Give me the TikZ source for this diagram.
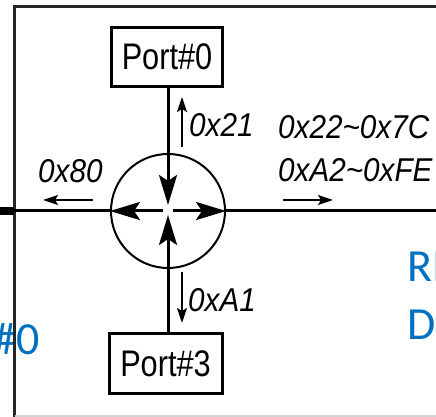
\documentclass[tikz,border=0pt]{standalone}
\usepackage{fontspec}
\setmainfont{Liberation Sans}
\newfontfamily\blfont{Carlito}
\usetikzlibrary{arrows.meta,calc}
\definecolor{myblue}{HTML}{0070C0}
\newcommand{\cnd}[2]{\scalebox{#1}[1]{#2}}
\begin{document}
\begin{tikzpicture}[x=1pt,y=1pt,
 framel/.style={line width=3pt, draw=black!85},
 conn/.style={line width=3pt},
 portbox/.style={draw, line width=3pt, minimum width=111pt, minimum height=59pt, inner sep=0pt, font=\fontsize{37}{40}\selectfont},
 hub/.style={circle, draw, line width=2pt, minimum size=114pt, inner sep=0pt},
 bigtip/.style={-{Stealth[length=30pt,width=18pt,inset=6pt]}},
 smallarrow/.style={line width=2pt, -{Stealth[length=15pt,width=10pt,inset=3pt]}},
 lbl/.style={font=\fontsize{33}{36}\selectfont\itshape, inner sep=0pt, anchor=base west},
 bluetxt/.style={font=\blfont\fontsize{46}{50}\selectfont, text=myblue, inner sep=0pt},
]
\useasboundingbox (0,0) rectangle (436,417);
\clip (0,0) rectangle (436,417);
% blue background text
\node[bluetxt, anchor=base west] (t1) at (407,135) {RI};
\node[bluetxt, anchor=base west] (t2) at (407,77) {De};
\node[bluetxt, anchor=base east] (t3) at (40,62) {\#0};
% frame
\draw[framel] (14,-5) -- (14,410) -- (445,410);
\draw[gray!35, line width=1.5pt] (15,1) -- (445,1);
% nodes
\node[hub] (sw) at (168,206) {};
\node[portbox] (p0) at (167,360) {\cnd{0.83}{Port\#0}};
\node[portbox, minimum width=113pt, minimum height=60pt] (p3) at (165.5,53) {\cnd{0.83}{Port\#3}};
\coordinate (L) at (0,206);
\coordinate (Lf) at (14,206);
\coordinate (R) at (440,206);
% connectors
\draw[conn, bigtip] (sw.center |- p0.south) -- ($(sw.center)+(0,6)$);
\draw[conn, bigtip] (sw.center |- p3.north) -- ($(sw.center)+(0,-4)$);
\draw[conn, bigtip] ($(sw.center)+(-5,0)$) -- (sw.west);
\draw[conn, bigtip] ($(sw.center)+(5,0)$) -- (sw.east);
\draw[conn] (sw.west) -- (L);
\draw[conn] (sw.east) -- (R);
\draw[line width=8pt] (L) -- (Lf);
% small arrows
\coordinate (u1) at (182,270); \coordinate (u2) at (182,320);
\coordinate (d1) at (182,145); \coordinate (d2) at (182,94);
\coordinate (r1) at (283,217); \coordinate (r2) at (333,217);
\coordinate (l1) at (93,217);  \coordinate (l2) at (43,217);
\draw[smallarrow] (u1) -- (u2);
\draw[smallarrow] (d1) -- (d2);
\draw[smallarrow] (r1) -- (r2);
\draw[smallarrow] (l1) -- (l2);
% labels
\node[lbl] (x21) at (189,280) {\cnd{0.9}{0x21}};
\node[lbl] (x22) at (278,278) {\cnd{0.9}{0x22\textasciitilde0x7C}};
\node[lbl] (xa2) at (278,235) {\cnd{0.9}{0xA2\textasciitilde0xFE}};
\node[lbl] (x80) at (38,234) {\cnd{0.9}{0x80}};
\node[lbl] (xa1) at (188,105) {\cnd{0.9}{0xA1}};
\end{tikzpicture}
\end{document}
